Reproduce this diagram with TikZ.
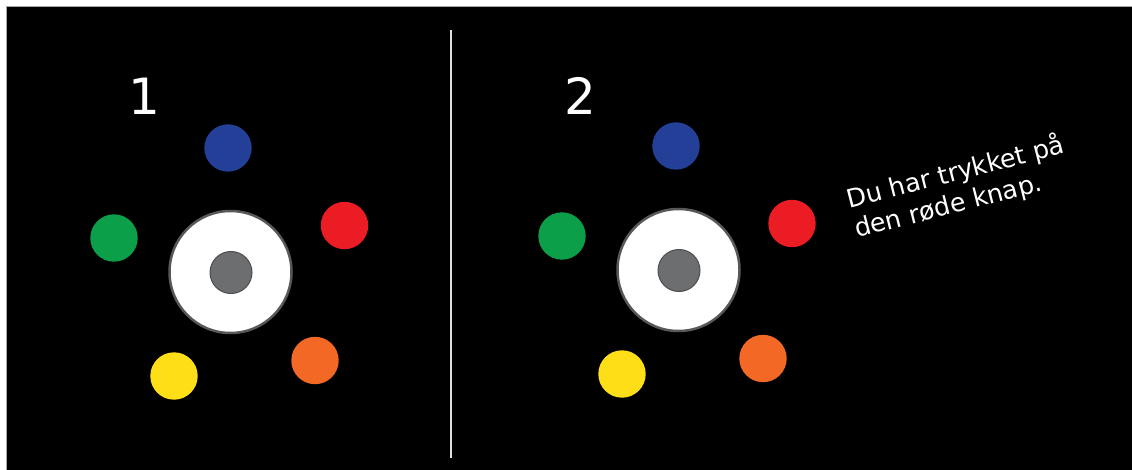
\documentclass[tikz,border=0pt]{standalone}
\usepackage{fontspec}
\setmainfont{DejaVu Sans}
\definecolor{kblue}{HTML}{233F98}
\definecolor{kgreen}{HTML}{0B9F49}
\definecolor{kred}{HTML}{EC1C24}
\definecolor{kyellow}{HTML}{FEDE17}
\definecolor{korange}{HTML}{F26824}
\definecolor{kgray}{HTML}{6D6E70}
\definecolor{kgrayedge}{HTML}{4D4D4F}
\definecolor{kring}{HTML}{58585A}
\tikzset{
  knob/.style={circle, inner sep=0pt, minimum size=47.4pt, fill=#1},
  dial/.style={circle, inner sep=0pt, minimum size=122pt, fill=white, draw=kring, line width=2.5pt},
  hub/.style={circle, inner sep=0pt, minimum size=42pt, fill=kgray, draw=kgrayedge, line width=1pt},
  numlabel/.style={text=white, font=\fontsize{50}{60}\selectfont, anchor=base, inner sep=0pt},
}
\begin{document}
\begin{tikzpicture}[x=1pt, y=-1pt]
\useasboundingbox (0,0) rectangle (1132,470);
\fill[white] (0,0) rectangle (1132,470);
\fill[black, draw=gray!70, line width=1pt] (6,7) rectangle (1140,480);
\coordinate (divtop) at (451,30);
\coordinate (divbot) at (451,458);
\draw[gray!25, line width=2pt] (divtop) -- (divbot);
% panel 1
\node[numlabel] (n1) at (144,115) {1};
\node[dial] (d1) at (230.5,272) {};
\node[hub] (h1) at (231,272.5) {};
\node[knob=kblue] (b1) at (228,148) {};
\node[knob=kgreen] (g1) at (114,238) {};
\node[knob=kred] (r1) at (344.5,225.5) {};
\node[knob=kyellow] (y1) at (174,376) {};
\node[knob=korange] (o1) at (315,360.5) {};
% panel 2
\node[numlabel] (n2) at (580.5,115) {2};
\node[dial] (d2) at (678.5,270) {};
\node[hub] (h2) at (679,270.5) {};
\node[knob=kblue] (b2) at (676,146) {};
\node[knob=kgreen] (g2) at (562,236) {};
\node[knob=kred] (r2) at (792,223.5) {};
\node[knob=kyellow] (y2) at (622,374) {};
\node[knob=korange] (o2) at (763,358.5) {};
\node[text=white, rotate=14.4, anchor=base west, align=left, inner sep=0pt,
      font=\fontsize{25.4}{30.5}\selectfont] (msg) at (857,238)
  {Du har trykket på\\den røde knap.};
\end{tikzpicture}
\end{document}
